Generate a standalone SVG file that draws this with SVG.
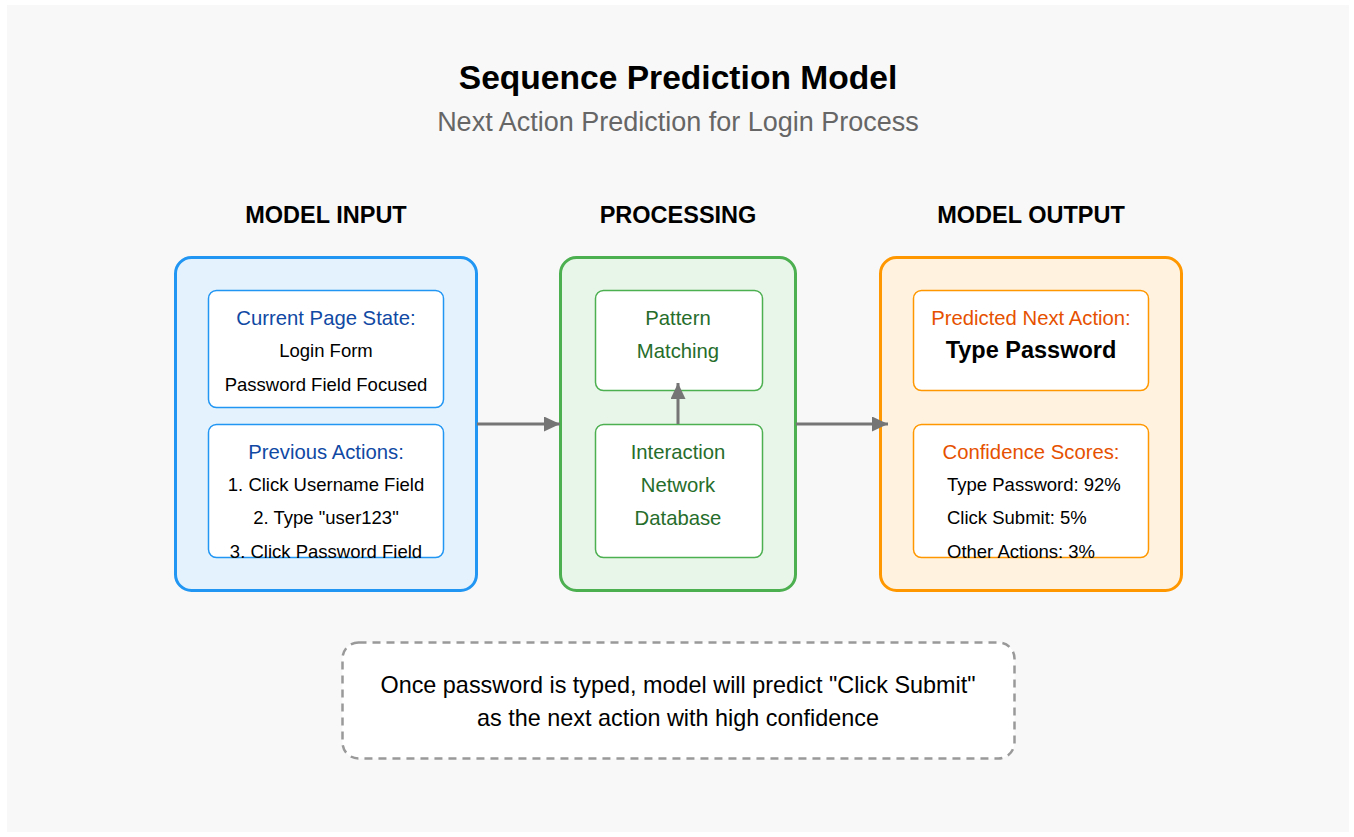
<svg xmlns="http://www.w3.org/2000/svg" width="1354" height="837" viewBox="0 0 1354 837">
  <defs>
    <marker id="arrow" markerWidth="16" markerHeight="15" refX="16" refY="7.5" orient="auto" markerUnits="userSpaceOnUse">
      <path d="M0,0 L16,7.5 L0,15 Z" fill="#757575"/>
    </marker>
    <style>
      text { font-family: "Liberation Sans", Arial, Helvetica, sans-serif; text-anchor: middle; }
      .title { font-size: 33.6px; font-weight: bold; fill: #000; }
      .subtitle { font-size: 27px; fill: #666; }
      .header { font-size: 23.5px; font-weight: bold; fill: #000; }
      .body { font-size: 18.5px; fill: #000; }
      .left { text-anchor: start; }
      .blue-head { font-size: 20.3px; fill: #1049A4; }
      .green-text { font-size: 20.3px; fill: #266D2B; }
      .orange-head { font-size: 20.3px; fill: #E65100; }
      .big { font-size: 23.5px; font-weight: bold; fill: #000; }
      .note { font-size: 23.4px; fill: #000; }
      .outer { stroke-width: 3; rx: 16; }
      .inner { fill: #fff; stroke-width: 1.5; rx: 8; }
      .conn { stroke: #757575; stroke-width: 3; fill: none; marker-end: url(#arrow); }
    </style>
  </defs>

  <!-- canvas -->
  <rect x="0" y="0" width="1354" height="837" fill="#fff"/>
  <rect x="7" y="5" width="1342" height="827" fill="#f8f8f8"/>

  <!-- titles -->
  <text class="title" x="678" y="89">Sequence Prediction Model</text>
  <text class="subtitle" x="678" y="131">Next Action Prediction for Login Process</text>

  <text class="header" x="326" y="223">MODEL INPUT</text>
  <text class="header" x="678" y="223">PROCESSING</text>
  <text class="header" x="1031" y="223">MODEL OUTPUT</text>

  <!-- input column -->
  <g id="model-input">
    <rect class="outer" x="175.5" y="257.5" width="301" height="333" fill="#E3F2FD" stroke="#2196F3"/>
  </g>
  <g id="current-page-state">
    <rect class="inner" x="208.5" y="290.5" width="235" height="117" stroke="#2196F3"/>
    <text class="blue-head" x="326" y="325">Current Page State:</text>
    <text class="body" x="326" y="357">Login Form</text>
    <text class="body" x="326" y="391">Password Field Focused</text>
  </g>
  <g id="previous-actions">
    <rect class="inner" x="208.5" y="424.5" width="235" height="133" stroke="#2196F3"/>
    <text class="blue-head" x="326" y="459">Previous Actions:</text>
    <text class="body" x="326" y="491">1. Click Username Field</text>
    <text class="body" x="326" y="524">2. Type "user123"</text>
    <text class="body" x="326" y="558">3. Click Password Field</text>
  </g>

  <!-- processing column -->
  <g id="processing">
    <rect class="outer" x="560.5" y="257.5" width="235" height="333" fill="#E8F5E9" stroke="#4CAF50"/>
  </g>
  <g id="pattern-matching">
    <rect class="inner" x="595.5" y="290.5" width="167" height="100" stroke="#4CAF50"/>
    <text class="green-text" x="678" y="325">Pattern</text>
    <text class="green-text" x="678" y="358">Matching</text>
  </g>
  <g id="interaction-network">
    <rect class="inner" x="595.5" y="424.5" width="167" height="133" stroke="#4CAF50"/>
    <text class="green-text" x="678" y="459">Interaction</text>
    <text class="green-text" x="678" y="492">Network</text>
    <text class="green-text" x="678" y="525">Database</text>
  </g>

  <!-- output column -->
  <g id="model-output">
    <rect class="outer" x="880.5" y="257.5" width="301" height="333" fill="#FFF3E0" stroke="#FF9800"/>
  </g>
  <g id="predicted-action">
    <rect class="inner" x="913.5" y="290.5" width="235" height="100" stroke="#FF9800"/>
    <text class="orange-head" x="1031" y="325">Predicted Next Action:</text>
    <text class="big" x="1031" y="358">Type Password</text>
  </g>
  <g id="confidence-scores">
    <rect class="inner" x="913.5" y="424.5" width="235" height="133" stroke="#FF9800"/>
    <text class="orange-head" x="1031" y="459">Confidence Scores:</text>
    <text class="body left" x="947" y="491">Type Password: 92%</text>
    <text class="body left" x="947" y="524">Click Submit: 5%</text>
    <text class="body left" x="947" y="558">Other Actions: 3%</text>
  </g>

  <!-- connectors -->
  <g id="connectors">
    <line class="conn" x1="477" y1="424" x2="560" y2="424"/>
    <line class="conn" x1="678" y1="424" x2="678" y2="383"/>
    <line class="conn" x1="796" y1="424" x2="888" y2="424"/>
  </g>

  <!-- note -->
  <g id="note">
    <rect x="342.5" y="642.5" width="672" height="116" rx="16" fill="#fff" stroke="#999" stroke-width="2.5" stroke-dasharray="8,6"/>
    <text class="note" x="678" y="693">Once password is typed, model will predict "Click Submit"</text>
    <text class="note" x="678" y="726">as the next action with high confidence</text>
  </g>
</svg>
